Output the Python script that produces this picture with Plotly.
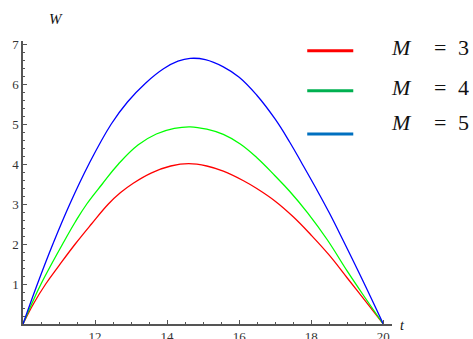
import plotly.graph_objects as go

# ---- data ----
t_m3 = [10, 10.3, 10.63, 11.0, 11.45, 11.9, 12.37, 12.7, 13.06, 13.57, 14.1, 14.6, 15.1, 15.56, 16.12, 16.5,
        17.0, 17.5, 18.0, 18.5, 19.0, 19.5, 20]
w_m3 = [0, 0.52, 1, 1.46, 2, 2.5, 3, 3.28, 3.52, 3.78, 3.95, 4.01, 3.95, 3.82, 3.58, 3.38,
        3.07, 2.68, 2.22, 1.72, 1.15, 0.58, 0]

t_m4 = [10, 10.25, 10.5, 11.1, 11.45, 11.77, 12.2, 12.65, 13.2, 13.7, 14.2, 14.64, 15.1, 15.56, 16.03, 16.5,
        17.0, 17.4, 17.9, 18.45, 19.0, 19.5, 20]
w_m4 = [0, 0.52, 1, 2, 2.55, 3, 3.5, 4, 4.48, 4.75, 4.89, 4.93, 4.87, 4.74, 4.5, 4.15,
        3.7, 3.32, 2.78, 2.1, 1.32, 0.65, 0]

t_m5 = [10, 10.4, 10.83, 11.3, 11.83, 12.45, 12.9, 13.4, 13.9, 14.3, 14.64, 15.06, 15.56, 16.0, 16.49,
        17.0, 17.4, 17.72, 18.14, 18.5, 18.88, 19.45, 20]
w_m5 = [0, 1, 2, 3, 4, 5, 5.55, 6.02, 6.38, 6.57, 6.64, 6.61, 6.43, 6.17, 5.72,
        5.12, 4.55, 4.05, 3.38, 2.78, 2.1, 1.05, 0]

x_ticks = [12, 14, 16, 18, 20]
y_ticks = [1, 2, 3, 4, 5, 6, 7]
legend_labels = ["3", "4", "5"]

# ---- layout geometry (body margin removed by post_script) ----
W, H = 473, 339
X0, Y0 = 23, 324                      # pixel position of (t=10, w=0)
XPX, YPX = 36.0, 40.0                 # pixels per unit
ML, MT, MB = X0, 41, H - Y0
MR = W - 391.7
PW, PH = W - ML - MR, H - MT - MB


def px(xp):
    return (xp - ML) / PW


def py(yp):
    return (H - MB - yp) / PH


curve_colors = ["#ff0000", "#00ff00", "#0000ff"]
legend_colors = ["#ff0000", "#00b050", "#0070c0"]

fig = go.Figure()
for tt, ww, c in [(t_m3, w_m3, curve_colors[0]), (t_m4, w_m4, curve_colors[1]), (t_m5, w_m5, curve_colors[2])]:
    fig.add_trace(go.Scatter(x=tt, y=ww, mode="lines", line=dict(color=c, width=1.3, shape="spline", smoothing=1.2),
                             showlegend=False, hoverinfo="skip"))

serif = "Liberation Serif, Times New Roman, serif"
axis_col = "#555555"

fig.update_layout(
    width=W, height=H,
    margin=dict(l=ML, r=MR, t=MT, b=MB, autoexpand=False),
    paper_bgcolor="white", plot_bgcolor="white",
    xaxis=dict(range=[10, 10 + PW / XPX], tickvals=x_ticks, ticks="inside", ticklen=4, tickcolor=axis_col,
               showgrid=False, zeroline=False, showline=True, linecolor=axis_col, linewidth=1.5, automargin=False,
               tickfont=dict(family=serif, size=13, color="#333333"),
               minor=dict(dtick=0.5, tick0=10, ticks="inside", ticklen=2, tickcolor=axis_col)),
    yaxis=dict(range=[0, PH / YPX], tickvals=y_ticks, ticks="inside", ticklen=4, tickcolor=axis_col,
               showgrid=False, zeroline=False, showline=True, linecolor=axis_col, linewidth=1.5, automargin=False,
               tickfont=dict(family=serif, size=13, color="#333333"),
               minor=dict(dtick=0.2, tick0=0, ticks="inside", ticklen=2, tickcolor=axis_col)),
)


def label(xp, yp, text, size):
    fig.add_annotation(x=px(xp), y=py(yp), xref="paper", yref="paper", text=text, showarrow=False,
                       xanchor="center", yanchor="middle",
                       font=dict(family=serif, size=size, color="#111111"))


# axis titles
label(56, 19, "<i>W</i>", 15)
label(402, 325, "<i>t</i>", 14)

# legend
leg_y = [50.7, 90.7, 134]
txt_y = [48, 87, 123]
for i in range(3):
    fig.add_shape(type="line", xref="paper", yref="paper", x0=px(307), x1=px(353), y0=py(leg_y[i]), y1=py(leg_y[i]),
                  line=dict(color=legend_colors[i], width=3))
    label(401, txt_y[i], "<i>M</i>", 22)
    label(440, txt_y[i], "=", 22)
    label(463, txt_y[i], legend_labels[i], 22)

fig.write_html("out.html", config={"displayModeBar": False},
               post_script="document.body.style.margin='0';document.documentElement.style.overflow='hidden';")
